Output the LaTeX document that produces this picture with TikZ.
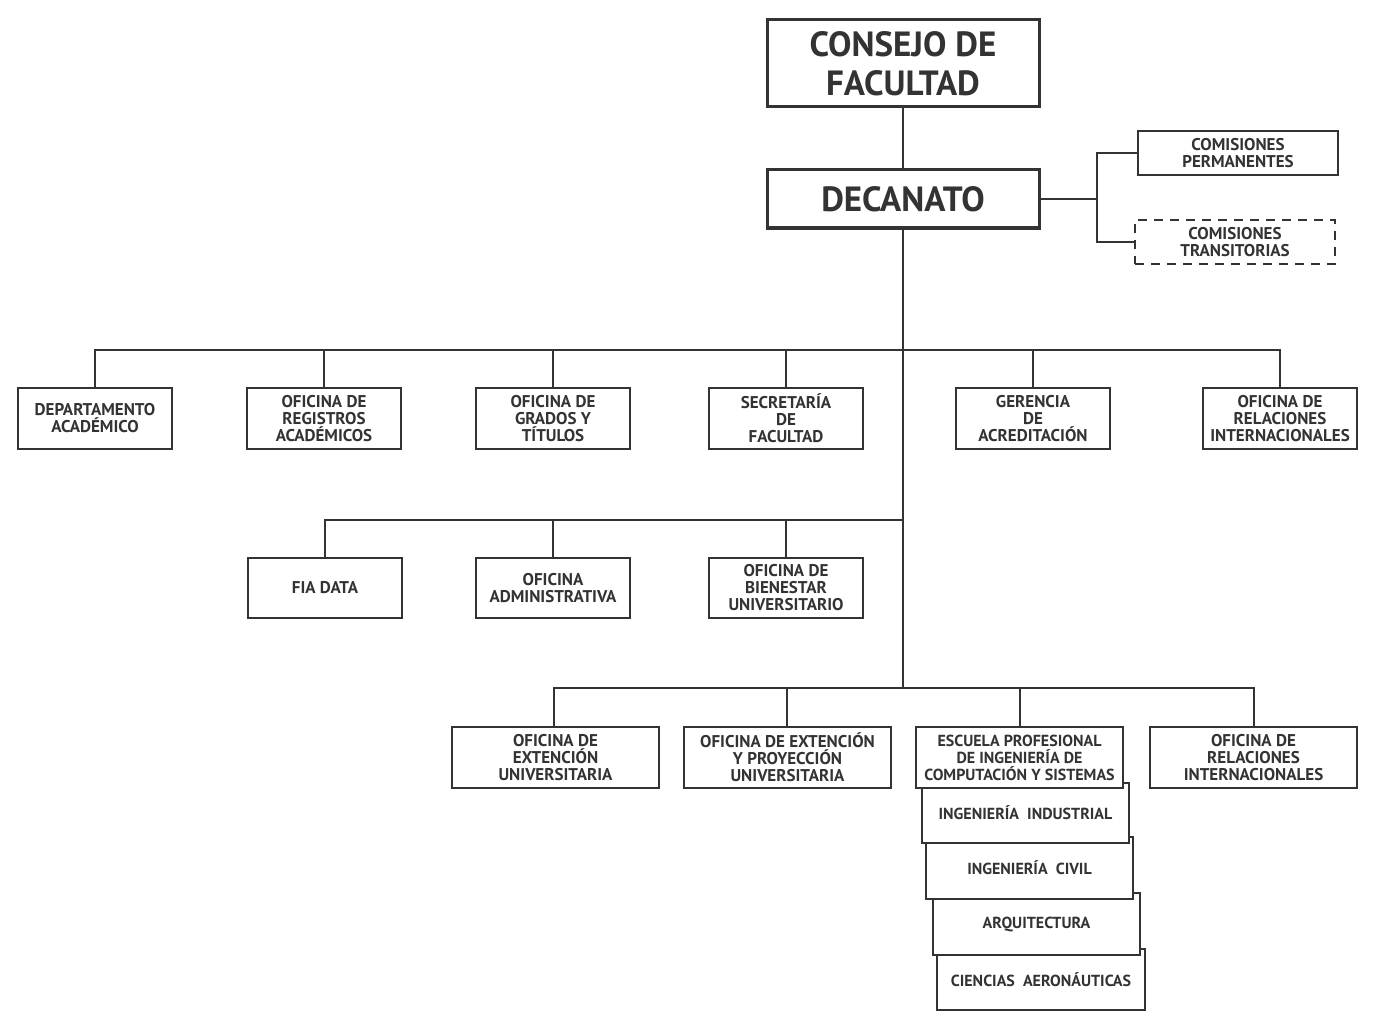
\documentclass[tikz,border=0pt]{standalone}
\usepackage{fontspec}
\setmainfont{PT Sans}
\definecolor{ink}{HTML}{333333}
\newcommand\smfnt{\fontsize{17}{17}\selectfont\bfseries}
\newcommand\tightfnt{\fontsize{16}{17}\selectfont\bfseries}
\newcommand\bigfnt{\fontsize{35}{39}\selectfont\bfseries}
\begin{document}
\begin{tikzpicture}[x=1pt,y=-1pt,
  box/.style={draw=ink,line width=2,fill=white,text=ink,align=center,inner sep=0pt,font=\smfnt},
  topbox/.style={box,line width=3,font=\bigfnt},
  conn/.style={draw=ink,line width=2}]
\useasboundingbox (0,0) rectangle (1373,1035);
\fill[white] (0,0) rectangle (1373,1035);

% top
\node[topbox,minimum width=272,minimum height=87] (consejo) at (903,63.5) {CONSEJO DE\\FACULTAD};
\node[topbox,minimum width=272,minimum height=58] (decanato) at (903,199) {DECANATO};
\node[box,minimum width=200,minimum height=44] (perm) at (1238,153) {COMISIONES\\PERMANENTES};
\node[box,dash pattern=on 9pt off 7pt,minimum width=200,minimum height=44] (trans) at (1235,242) {COMISIONES\\TRANSITORIAS};

% row 1
\node[box,minimum width=154,minimum height=61] (dep) at (95,418.5) {DEPARTAMENTO\\ACADÉMICO};
\node[box,minimum width=154,minimum height=61] (reg) at (324,418.5) {OFICINA DE\\REGISTROS\\ACADÉMICOS};
\node[box,minimum width=154,minimum height=61] (gra) at (553,418.5) {OFICINA DE\\GRADOS Y\\TÍTULOS};
\node[box,minimum width=154,minimum height=61] (sec) at (786,418.5) {SECRETARÍA\\DE\\FACULTAD};
\node[box,minimum width=154,minimum height=61] (ger) at (1033,418.5) {GERENCIA\\DE\\ACREDITACIÓN};
\node[box,minimum width=154,minimum height=61] (rel1) at (1280,418.5) {OFICINA DE\\RELACIONES\\INTERNACIONALES};

% row 2
\node[box,minimum width=154,minimum height=60] (fia) at (325,588) {FIA DATA};
\node[box,minimum width=154,minimum height=60] (adm) at (553,588) {OFICINA\\ADMINISTRATIVA};
\node[box,minimum width=154,minimum height=60] (bie) at (786,588) {OFICINA DE\\BIENESTAR\\UNIVERSITARIO};

% stacked schools (back to front)
\node[box,font=\tightfnt,minimum width=208,minimum height=61] (aer) at (1041,979.5) {CIENCIAS~ AERONÁUTICAS};
\node[box,font=\tightfnt,minimum width=207,minimum height=62] (arq) at (1036.5,924) {ARQUITECTURA};
\node[box,font=\tightfnt,minimum width=207,minimum height=62] (civ) at (1029.5,868) {INGENIERÍA~ CIVIL};
\node[box,font=\tightfnt,minimum width=207,minimum height=60] (ind) at (1025.5,813) {INGENIERÍA~ INDUSTRIAL};

% row 3
\node[box,minimum width=207,minimum height=61] (ext) at (555.5,757.5) {OFICINA DE\\EXTENCIÓN\\UNIVERSITARIA};
\node[box,minimum width=207,minimum height=61] (pro) at (787.5,757.5) {OFICINA DE EXTENCIÓN\\Y PROYECCIÓN\\UNIVERSITARIA};
\node[box,font=\tightfnt,minimum width=207,minimum height=61] (esc) at (1019.5,757.5) {ESCUELA PROFESIONAL\\DE INGENIERÍA DE\\COMPUTACIÓN Y SISTEMAS};
\node[box,minimum width=207,minimum height=61] (rel2) at (1253.5,757.5) {OFICINA DE\\RELACIONES\\INTERNACIONALES};

% coordinates
\coordinate (cj) at (1097,199);
\coordinate (bus1) at (903,350);
\coordinate (bus2) at (903,520);
\coordinate (bus3) at (903,688);

% connectors
\draw[conn] (consejo.south) -- (decanato.north);
\draw[conn] (decanato.east) -- (cj);
\draw[conn] (perm.west) -| (cj) |- (trans.west);
\draw[conn] (decanato.south) -- (bus3);
\draw[conn] (dep.north) |- (bus1) -| (rel1.north);
\draw[conn] (reg.north) -- (reg.north |- bus1);
\draw[conn] (gra.north) -- (gra.north |- bus1);
\draw[conn] (sec.north) -- (sec.north |- bus1);
\draw[conn] (ger.north) -- (ger.north |- bus1);
\draw[conn] (fia.north) |- (bus2);
\draw[conn] (adm.north) -- (adm.north |- bus2);
\draw[conn] (bie.north) -- (bie.north |- bus2);
\draw[conn] ([xshift=-2]ext.north) |- (bus3) -| (rel2.north);
\draw[conn] ([xshift=-1]pro.north) -- ([xshift=-1]pro.north |- bus3);
\draw[conn] (esc.north) -- (esc.north |- bus3);
\end{tikzpicture}
\end{document}
